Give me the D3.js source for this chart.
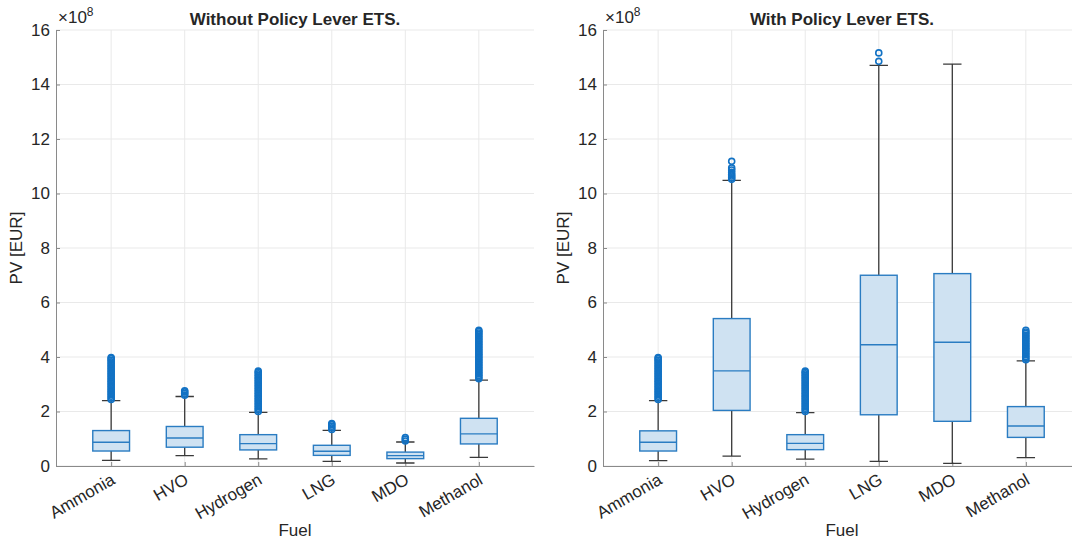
<!DOCTYPE html>
<html>
<head>
<meta charset="utf-8">
<script src="https://cdn.jsdelivr.net/npm/d3@7"></script>
<style>
  body { margin: 0; background: #fff; }
  svg { display: block; font-family: "Liberation Sans", Arial, sans-serif; }
</style>
</head>
<body>
<svg id="chart" width="1072" height="539"></svg>
<script>
// fuels on the x axis
const fuels = ["Ammonia", "HVO", "Hydrogen", "LNG", "MDO", "Methanol"];
const yTicks = [0, 2, 4, 6, 8, 10, 12, 14, 16];

// box stats in units of 1e8 EUR: [whisker low, q1, median, q3, whisker high]
const statsWithout = [
  [0.21, 0.55, 0.87, 1.30, 2.40],
  [0.38, 0.69, 1.03, 1.45, 2.55],
  [0.26, 0.59, 0.82, 1.15, 1.97],
  [0.17, 0.39, 0.54, 0.76, 1.31],
  [0.11, 0.27, 0.38, 0.51, 0.88],
  [0.32, 0.81, 1.18, 1.75, 3.15]
];
const statsWith = [
  [0.20, 0.55, 0.87, 1.29, 2.40],
  [0.36, 2.04, 3.49, 5.41, 10.48],
  [0.25, 0.60, 0.83, 1.15, 1.96],
  [0.17, 1.88, 4.45, 7.00, 14.70],
  [0.10, 1.64, 4.54, 7.06, 14.75],
  [0.31, 1.05, 1.47, 2.18, 3.86]
];

// outliers (1e8 EUR)
const ammoniaOut = [2.44, 2.5, 2.56, 2.62, 2.68, 2.74, 2.8, 2.86, 2.92, 2.98, 3.04, 3.1, 3.16, 3.22, 3.28,
  3.34, 3.4, 3.46, 3.52, 3.58, 3.64, 3.7, 3.76, 3.82, 3.88, 3.94, 3.98];
const hydrogenOut = [2.0, 2.06, 2.12, 2.18, 2.24, 2.3, 2.36, 2.42, 2.48, 2.54, 2.6, 2.66, 2.72, 2.78, 2.84,
  2.9, 2.96, 3.02, 3.08, 3.14, 3.2, 3.26, 3.32, 3.38, 3.44, 3.48];
const methanolOut = [3.2, 3.26, 3.32, 3.38, 3.44, 3.5, 3.56, 3.62, 3.68, 3.74, 3.8, 3.86, 3.92, 3.98, 4.04,
  4.1, 4.16, 4.22, 4.28, 4.34, 4.4, 4.46, 4.52, 4.58, 4.64, 4.7, 4.76, 4.82, 4.88, 4.94, 4.98];
const methanolOutWith = [3.9, 3.96, 4.02, 4.08, 4.14, 4.2, 4.26, 4.32, 4.38, 4.44, 4.5, 4.56, 4.62, 4.68,
  4.74, 4.8, 4.86, 4.92, 4.98];
const hvoOutWithout = [2.6, 2.66, 2.72, 2.76];
const hvoOutWith = [10.52, 10.58, 10.64, 10.7, 10.78, 10.86, 10.94, 11.18];
const lngOutWithout = [1.34, 1.4, 1.46, 1.52, 1.56];
const lngOutWith = [14.85, 15.16];
const mdoOutWithout = [0.92, 0.98, 1.04];
const mdoOutWith = [];

const outWithout = [ammoniaOut, hvoOutWithout, hydrogenOut, lngOutWithout, mdoOutWithout, methanolOut];
const outWith = [ammoniaOut, hvoOutWith, hydrogenOut, lngOutWith, mdoOutWith, methanolOutWith];

const svg = d3.select("#chart");

const boxStroke = "#2a7cc2";
const boxFill = "#cfe2f2";
const markerColor = "#1272c4";
const axisColor = "#8a8a8a";
const gridColor = "#e9e9e9";
const textColor = "#262626";

function drawPanel(left, width, title, stats, outliers) {
  const top = 30, bottom = 466;
  const x = d3.scalePoint().domain(fuels).range([left, left + width]).padding(0.75);
  const step = x.step();
  const y = d3.scaleLinear().domain([0, 16]).range([bottom, top]);

  const g = svg.append("g");

  // grid
  g.append("g").selectAll("line").data(yTicks).join("line")
    .attr("x1", left).attr("x2", left + width)
    .attr("y1", d => y(d)).attr("y2", d => y(d))
    .attr("stroke", gridColor).attr("stroke-width", 1);
  g.append("g").selectAll("line").data(fuels).join("line")
    .attr("x1", d => x(d)).attr("x2", d => x(d))
    .attr("y1", top).attr("y2", bottom)
    .attr("stroke", gridColor).attr("stroke-width", 1);

  // y axis
  const yAxis = g.append("g")
    .attr("transform", "translate(" + left + ",0)")
    .call(d3.axisLeft(y).tickValues(yTicks).tickSize(0).tickPadding(6));
  yAxis.select(".domain").attr("stroke", axisColor);
  yAxis.selectAll(".tick text").attr("fill", textColor)
    .style("font-size", "17px").style("font-family", "Liberation Sans, Arial, sans-serif");
  yAxis.selectAll(".tick").append("line")
    .attr("x1", 0).attr("x2", 4).attr("stroke", axisColor);

  // x axis
  const xAxis = g.append("g")
    .attr("transform", "translate(0," + bottom + ")")
    .call(d3.axisBottom(x).tickSize(0).tickFormat(""));
  xAxis.select(".domain").attr("stroke", axisColor);
  xAxis.selectAll(".tick").append("line")
    .attr("y1", 0).attr("y2", -4).attr("stroke", axisColor);

  g.append("g").selectAll("text").data(fuels).join("text")
    .attr("transform", d => "translate(" + (x(d) + 5) + "," + (bottom + 17) + ") rotate(-30)")
    .attr("text-anchor", "end")
    .attr("fill", textColor)
    .style("font-size", "17px")
    .text(d => d);

  // exponent label
  const ex = g.append("text")
    .attr("x", left + 2).attr("y", 23)
    .attr("fill", textColor)
    .style("font-size", "17px");
  ex.append("tspan").text("×10");
  ex.append("tspan").attr("dy", -7).style("font-size", "12px").text("8");

  // titles
  g.append("text")
    .attr("x", left + width / 2).attr("y", 25)
    .attr("text-anchor", "middle")
    .attr("fill", textColor)
    .style("font-size", "17px").style("font-weight", "bold")
    .text(title);

  g.append("text")
    .attr("transform", "translate(" + (left - 34) + "," + ((top + bottom) / 2) + ") rotate(-90)")
    .attr("text-anchor", "middle")
    .attr("fill", textColor)
    .style("font-size", "17px")
    .text("PV [EUR]");

  g.append("text")
    .attr("x", left + width / 2).attr("y", 536)
    .attr("text-anchor", "middle")
    .attr("fill", textColor)
    .style("font-size", "17px")
    .text("Fuel");

  // boxes
  const boxW = step * 0.5, capW = step * 0.25;
  const b = g.append("g").selectAll("g").data(fuels).join("g");

  // whiskers
  b.append("path")
    .attr("stroke", "#3a3a3a").attr("stroke-width", 1.3).attr("fill", "none")
    .attr("d", (d, i) => {
      const s = stats[i], cx = x(d);
      return "M" + cx + "," + y(s[3]) + "V" + y(s[4]) +
        "M" + (cx - capW / 2) + "," + y(s[4]) + "H" + (cx + capW / 2) +
        "M" + cx + "," + y(s[1]) + "V" + y(s[0]) +
        "M" + (cx - capW / 2) + "," + y(s[0]) + "H" + (cx + capW / 2);
    });

  b.append("rect")
    .attr("x", d => x(d) - boxW / 2)
    .attr("width", boxW)
    .attr("y", (d, i) => y(stats[i][3]))
    .attr("height", (d, i) => y(stats[i][1]) - y(stats[i][3]))
    .attr("fill", boxFill)
    .attr("stroke", boxStroke).attr("stroke-width", 1.4);

  b.append("line")
    .attr("x1", d => x(d) - boxW / 2).attr("x2", d => x(d) + boxW / 2)
    .attr("y1", (d, i) => y(stats[i][2])).attr("y2", (d, i) => y(stats[i][2]))
    .attr("stroke", boxStroke).attr("stroke-width", 1.4);

  // outliers
  b.each(function(d, i) {
    d3.select(this).append("g").selectAll("circle").data(outliers[i]).join("circle")
      .attr("cx", x(d))
      .attr("cy", v => y(v))
      .attr("r", 3)
      .attr("fill", "none")
      .attr("stroke", markerColor).attr("stroke-width", 1.6);
  });
}

drawPanel(56, 478, "Without Policy Lever ETS.", statsWithout, outWithout);
drawPanel(603, 478, "With Policy Lever ETS.", statsWith, outWith);
</script>
</body>
</html>
